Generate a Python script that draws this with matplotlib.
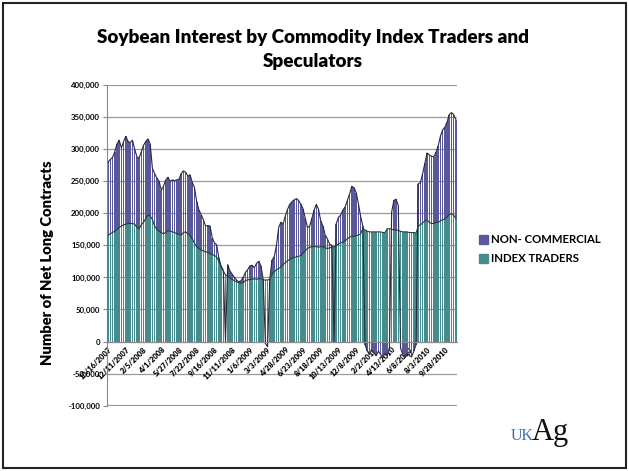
import matplotlib
matplotlib.use("Agg")
import matplotlib.pyplot as plt
import numpy as np
from matplotlib.patches import Rectangle, Patch

# ---------------- data (thousands of contracts, weekly) ----------------
non_commercial = [
    280, 284, 287, 296, 308, 314, 302, 312, 320, 312,
    310, 314, 300, 288, 286, 296, 306, 312, 316, 308,
    270, 262, 255, 250, 236, 242, 252, 256, 250, 252,
    251, 252, 253, 262, 266, 264, 258, 260, 248, 240,
    218, 205, 198, 190, 180, 181, 180, 162, 154, 151,
    130, 118, 111, 0, 120, 110, 105, 100, 96, 93,
    95, 100, 108, 112, 118, 119, 115, 122, 125, 118,
    97, -3, -8, 98, 127, 132, 150, 178, 186, 183,
    196, 206, 214, 218, 221, 223, 220, 214, 207, 192,
    178, 180, 192, 205, 214, 206, 188, 180, 166, 160,
    152, 150, 0, 184, 194, 197, 205, 210, 220, 230,
    242, 240, 232, 215, 195, 180, -5, -15, -20, -12,
    -18, -22, -15, -20, -25, -18, -22, -10, 202, 220,
    222, 212, -10, -20, -25, -18, -22, -24, -15, -5,
    246, 248, 262, 278, 294, 291, 289, 288, 295, 305,
    320, 330, 334, 342, 354, 357, 354, 346,
]
index_traders = [
    166, 168, 170, 172, 175, 178, 180, 182, 183, 184,
    184, 184, 183, 178, 176, 182, 186, 192, 197, 196,
    190, 180, 175, 172, 170, 168, 170, 173, 172, 171,
    170, 168, 167, 166, 170, 171, 168, 165, 160, 153,
    148, 145, 143, 141, 140, 139, 137, 136, 134, 132,
    125, 117, 110, 104, 102, 99, 97, 95, 93, 92,
    91, 92, 95, 96, 97, 97, 98, 97, 98, 98,
    96, 96, 96, 97, 105, 109, 112, 114, 116, 120,
    123, 126, 128, 130, 131, 132, 133, 134, 138, 142,
    145, 147, 148, 148, 148, 147, 148, 148, 146, 145,
    146, 147, 148, 150, 152, 154, 155, 157, 160, 163,
    164, 164, 165, 166, 168, 176, 174, 172, 171, 171,
    171, 171, 171, 171, 170, 170, 176, 176, 175, 174,
    174, 173, 172, 171, 171, 171, 170, 170, 170, 169,
    180, 182, 185, 188, 189, 186, 184, 184, 186, 186,
    188, 190, 191, 194, 198, 199, 197, 192,
]
tick_labels = [
    "10/16/2007", "12/11/2007", "2/5/2008", "4/1/2008", "5/27/2008",
    "7/22/2008", "9/16/2008", "11/11/2008", "1/6/2009", "3/3/2009",
    "4/28/2009", "6/23/2009", "8/18/2009", "10/13/2009", "12/8/2009",
    "2/2/2010", "4/13/2010", "6/8/2010", "8/3/2010", "9/28/2010",
]
tick_step = 8
y_ticks = [-100000, -50000, 0, 50000, 100000, 150000, 200000, 250000, 300000, 350000, 400000]

nc = np.array(non_commercial) * 1000.0
it = np.array(index_traders) * 1000.0
x = np.arange(len(nc))

PURPLE = "#58589a"
TEAL = "#468c8c"

W, H = 629, 471
fig = plt.figure(figsize=(W / 100, H / 100), dpi=100)
fig.patch.set_facecolor("white")

ax = fig.add_axes([107 / W, 1 - 405.7 / H, 350 / W, (405.7 - 85) / H])

for s in ["top", "right"]:
    ax.spines[s].set_visible(False)
ax.spines["bottom"].set_position(("data", 0))
ax.spines["bottom"].set_color("#8a8a8a")
ax.spines["left"].set_color("#8a8a8a")
ax.spines["bottom"].set_zorder(6)

ax.set_xlim(-0.5, len(nc) - 0.5)
ax.set_ylim(-100000, 400000)

ax.bar(x, nc, width=0.72, color=PURPLE, linewidth=0, zorder=2)
ax.bar(x, it, width=0.72, color=TEAL, linewidth=0, zorder=3)
ax.plot(x, nc, color="#2a2a3a", lw=0.8, zorder=4)
ax.plot(x, it, color="#2a3a3a", lw=0.8, zorder=5)

for v in y_ticks:
    ax.axhline(v, color="#9a9a9a", lw=0.9 if v != -100000 else 1.6, zorder=1)

ax.set_yticks(y_ticks)
ax.set_yticklabels([f"{v:,}" for v in y_ticks], fontsize=5.6, fontweight="bold",
                   family="Lato")
ax.tick_params(axis="y", length=3, color="#888888", pad=2)

pos = list(range(0, len(nc), tick_step))[:len(tick_labels)]
ax.set_xticks(pos)
ax.set_xticklabels(tick_labels, rotation=45, ha="right", va="top",
                   rotation_mode="anchor", fontsize=5.4, fontweight="heavy", family="Lato")
ax.tick_params(axis="x", length=0, pad=3)

fig.text(313 / W, 1 - 37 / H, "Soybean Interest by Commodity Index Traders and",
         ha="center", va="center", fontsize=13.6, fontweight="heavy", family="Lato")
fig.text(313 / W, 1 - 62 / H, "Speculators",
         ha="center", va="center", fontsize=13.6, fontweight="heavy", family="Lato")

fig.text(48 / W, 1 - 263 / H, "Number of Net Long Contracts", rotation=90,
         ha="center", va="center", fontsize=10.6, fontweight="heavy", family="Lato")

handles = [Patch(color=PURPLE, label="NON- COMMERCIAL"),
           Patch(color=TEAL, label="INDEX TRADERS")]
fig.legend(handles=handles, loc="upper left", bbox_to_anchor=(469 / W, 1 - 224 / H),
           frameon=False, handlelength=0.8, handleheight=0.8, handletextpad=0.25,
           labelspacing=0.7, prop={"family": "Lato", "weight": "bold", "size": 8.2})

fig.text(511 / W, 1 - 440 / H, "UK", color="#3a6fb0", fontsize=11.5,
         family="Liberation Serif", ha="left", va="baseline")
fig.text(532 / W, 1 - 440 / H, "Ag", color="#111111", fontsize=22,
         family="Liberation Serif", ha="left", va="baseline")

fig.patches.append(Rectangle((3 / W, 3 / H), 623 / W, 465 / H, transform=fig.transFigure,
                             fill=False, edgecolor="#222222", lw=1.5))

fig.savefig("out.png", dpi=100, facecolor="white")
